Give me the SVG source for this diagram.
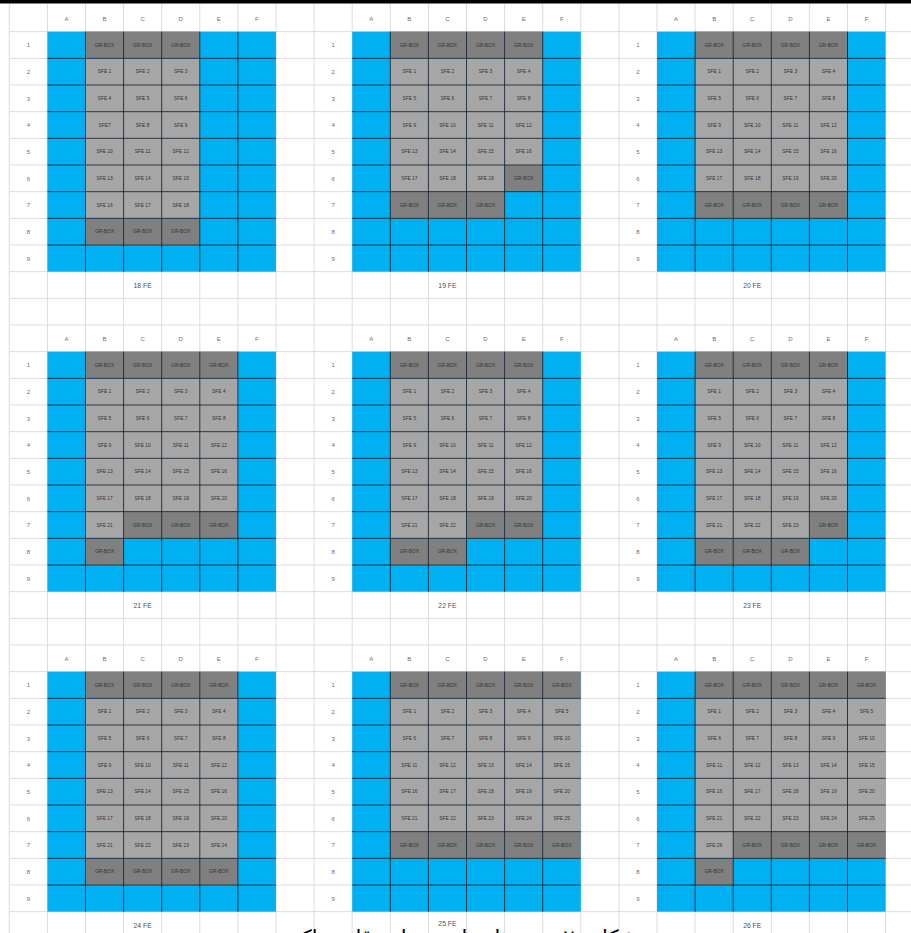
<svg xmlns="http://www.w3.org/2000/svg" xmlns:xlink="http://www.w3.org/1999/xlink" width="911" height="933" viewBox="0 0 911 933">
<defs>
<style>
.b{fill:#00b0f0}
.g{fill:#808080}
.s{fill:#a6a6a6}
.t{font-family:"Liberation Sans",Arial,sans-serif;font-size:4.9px;fill:#333333;text-anchor:middle}
.h{font-family:"Liberation Sans",Arial,sans-serif;font-size:6px;fill:#6e6e6e;text-anchor:middle}
.lab{font-family:"Liberation Sans",Arial,sans-serif;font-size:6.8px;fill:#505050;text-anchor:middle}
.grid{fill:none;stroke:#dcdcdc;stroke-width:1}
.cg{fill:none;stroke:#1c2a38;stroke-width:0.9}
.cap{font-family:"DejaVu Sans",sans-serif;font-size:21px;fill:#000000;text-anchor:middle}
</style>
<g id="hdr" class="h">
<text x="57.15" y="15.5">A</text><text x="95.25" y="15.5">B</text><text x="133.35" y="15.5">C</text><text x="171.45" y="15.5">D</text><text x="209.55" y="15.5">E</text><text x="247.65" y="15.5">F</text>
<text x="19.05" y="42.2">1</text><text x="19.05" y="68.87">2</text><text x="19.05" y="95.53">3</text><text x="19.05" y="122.2">4</text><text x="19.05" y="148.87">5</text><text x="19.05" y="175.53">6</text><text x="19.05" y="202.2">7</text><text x="19.05" y="228.87">8</text><text x="19.05" y="255.53">9</text>
</g>
<path id="blk" class="cg" d="M76.2 26.667V266.667M114.3 26.667V266.667M152.4 26.667V266.667M190.5 26.667V266.667M228.6 26.667V266.667M38.1 53.333H266.7M38.1 80H266.7M38.1 106.667H266.7M38.1 133.333H266.7M38.1 160H266.7M38.1 186.667H266.7M38.1 213.333H266.7M38.1 240H266.7"/>
<rect id="blue" class="b" x="38.1" y="26.667" width="228.6" height="240"/>
<g id="core4">
<rect class="g" x="76.2" y="26.667" width="152.4" height="26.667"/>
<rect class="s" x="76.2" y="53.333" width="152.4" height="133.333"/>
<g class="t">
<text x="95.25" y="41.7">GR-BOX</text><text x="133.35" y="41.7">GR-BOX</text><text x="171.45" y="41.7">GR-BOX</text><text x="209.55" y="41.7">GR-BOX</text>
<text x="95.25" y="68.37">SFE 1</text><text x="133.35" y="68.37">SFE 2</text><text x="171.45" y="68.37">SFE 3</text><text x="209.55" y="68.37">SFE 4</text>
<text x="95.25" y="95.03">SFE 5</text><text x="133.35" y="95.03">SFE 6</text><text x="171.45" y="95.03">SFE 7</text><text x="209.55" y="95.03">SFE 8</text>
<text x="95.25" y="121.7">SFE 9</text><text x="133.35" y="121.7">SFE 10</text><text x="171.45" y="121.7">SFE 11</text><text x="209.55" y="121.7">SFE 12</text>
<text x="95.25" y="148.37">SFE 13</text><text x="133.35" y="148.37">SFE 14</text><text x="171.45" y="148.37">SFE 15</text><text x="209.55" y="148.37">SFE 16</text>
<text x="95.25" y="175.03">SFE 17</text><text x="133.35" y="175.03">SFE 18</text><text x="171.45" y="175.03">SFE 19</text><text x="209.55" y="175.03">SFE 20</text>
</g>
</g>
<g id="core5">
<rect class="g" x="76.2" y="26.667" width="190.5" height="26.667"/>
<rect class="s" x="76.2" y="53.333" width="190.5" height="133.333"/>
<g class="t">
<text x="95.25" y="41.7">GR-BOX</text><text x="133.35" y="41.7">GR-BOX</text><text x="171.45" y="41.7">GR-BOX</text><text x="209.55" y="41.7">GR-BOX</text><text x="247.65" y="41.7">GR-BOX</text>
<text x="95.25" y="68.37">SFE 1</text><text x="133.35" y="68.37">SFE 2</text><text x="171.45" y="68.37">SFE 3</text><text x="209.55" y="68.37">SFE 4</text><text x="247.65" y="68.37">SFE 5</text>
<text x="95.25" y="95.03">SFE 6</text><text x="133.35" y="95.03">SFE 7</text><text x="171.45" y="95.03">SFE 8</text><text x="209.55" y="95.03">SFE 9</text><text x="247.65" y="95.03">SFE 10</text>
<text x="95.25" y="121.7">SFE 11</text><text x="133.35" y="121.7">SFE 12</text><text x="171.45" y="121.7">SFE 13</text><text x="209.55" y="121.7">SFE 14</text><text x="247.65" y="121.7">SFE 15</text>
<text x="95.25" y="148.37">SFE 16</text><text x="133.35" y="148.37">SFE 17</text><text x="171.45" y="148.37">SFE 18</text><text x="209.55" y="148.37">SFE 19</text><text x="247.65" y="148.37">SFE 20</text>
<text x="95.25" y="175.03">SFE 21</text><text x="133.35" y="175.03">SFE 22</text><text x="171.45" y="175.03">SFE 23</text><text x="209.55" y="175.03">SFE 24</text><text x="247.65" y="175.03">SFE 25</text>
</g>
</g>
</defs>
<rect x="0" y="0" width="911" height="933" fill="#ffffff"/>
<g id="sheet-grid">
<path class="grid" d="M9.3 3.5V933M47.4 3.5V933M85.5 3.5V933M123.6 3.5V933M161.7 3.5V933M199.8 3.5V933M237.9 3.5V933M276 3.5V933M314.1 3.5V933M352.2 3.5V933M390.3 3.5V933M428.4 3.5V933M466.5 3.5V933M504.6 3.5V933M542.7 3.5V933M580.8 3.5V933M618.9 3.5V933M657 3.5V933M695.1 3.5V933M733.2 3.5V933M771.3 3.5V933M809.4 3.5V933M847.5 3.5V933M885.6 3.5V933"/>
<path class="grid" d="M9.3 31.67H911M9.3 58.33H911M9.3 85H911M9.3 111.67H911M9.3 138.33H911M9.3 165H911M9.3 191.67H911M9.3 218.33H911M9.3 245H911M9.3 271.67H911M9.3 298.33H911M9.3 325H911M9.3 351.67H911M9.3 378.33H911M9.3 405H911M9.3 431.67H911M9.3 458.33H911M9.3 485H911M9.3 511.67H911M9.3 538.33H911M9.3 565H911M9.3 591.67H911M9.3 618.33H911M9.3 645H911M9.3 671.67H911M9.3 698.33H911M9.3 725H911M9.3 751.67H911M9.3 778.33H911M9.3 805H911M9.3 831.67H911M9.3 858.33H911M9.3 885H911M9.3 911.67H911"/>
</g>
<rect x="0" y="0" width="911" height="3.5" fill="#000000"/>

<g id="fe18" transform="translate(9.3,5)">
<use xlink:href="#hdr"/>
<use xlink:href="#blue"/>
<rect class="g" x="76.2" y="26.667" width="114.3" height="26.667"/>
<rect class="s" x="76.2" y="53.333" width="114.3" height="160"/>
<rect class="g" x="76.2" y="213.333" width="114.3" height="26.667"/>
<use xlink:href="#blk"/>
<g class="t">
<text x="95.25" y="41.7">GR-BOX</text><text x="133.35" y="41.7">GR-BOX</text><text x="171.45" y="41.7">GR-BOX</text>
<text x="95.25" y="68.37">SFE 1</text><text x="133.35" y="68.37">SFE 2</text><text x="171.45" y="68.37">SFE 3</text>
<text x="95.25" y="95.03">SFE 4</text><text x="133.35" y="95.03">SFE 5</text><text x="171.45" y="95.03">SFE 6</text>
<text x="95.25" y="121.7">SFE7</text><text x="133.35" y="121.7">SFE 8</text><text x="171.45" y="121.7">SFE 9</text>
<text x="95.25" y="148.37">SFE 10</text><text x="133.35" y="148.37">SFE 11</text><text x="171.45" y="148.37">SFE 12</text>
<text x="95.25" y="175.03">SFE 13</text><text x="133.35" y="175.03">SFE 14</text><text x="171.45" y="175.03">SFE 15</text>
<text x="95.25" y="201.7">SFE 16</text><text x="133.35" y="201.7">SFE 17</text><text x="171.45" y="201.7">SFE 18</text>
<text x="95.25" y="228.37">GR-BOX</text><text x="133.35" y="228.37">GR-BOX</text><text x="171.45" y="228.37">GR-BOX</text>
</g>
<text class="lab" x="133.35" y="282.5">18 FE</text>
</g>

<g id="fe19" transform="translate(314.1,5)">
<use xlink:href="#hdr"/>
<use xlink:href="#blue"/>
<rect class="g" x="76.2" y="26.667" width="152.4" height="26.667"/>
<rect class="s" x="76.2" y="53.333" width="152.4" height="106.667"/>
<rect class="s" x="76.2" y="160" width="114.3" height="26.667"/>
<rect class="g" x="190.5" y="160" width="38.1" height="26.667"/>
<rect class="g" x="76.2" y="186.667" width="114.3" height="26.667"/>
<use xlink:href="#blk"/>
<g class="t">
<text x="95.25" y="41.7">GR-BOX</text><text x="133.35" y="41.7">GR-BOX</text><text x="171.45" y="41.7">GR-BOX</text><text x="209.55" y="41.7">GR-BOX</text>
<text x="95.25" y="68.37">SFE 1</text><text x="133.35" y="68.37">SFE 2</text><text x="171.45" y="68.37">SFE 3</text><text x="209.55" y="68.37">SFE 4</text>
<text x="95.25" y="95.03">SFE 5</text><text x="133.35" y="95.03">SFE 6</text><text x="171.45" y="95.03">SFE 7</text><text x="209.55" y="95.03">SFE 8</text>
<text x="95.25" y="121.7">SFE 9</text><text x="133.35" y="121.7">SFE 10</text><text x="171.45" y="121.7">SFE 11</text><text x="209.55" y="121.7">SFE 12</text>
<text x="95.25" y="148.37">SFE 13</text><text x="133.35" y="148.37">SFE 14</text><text x="171.45" y="148.37">SFE 15</text><text x="209.55" y="148.37">SFE 16</text>
<text x="95.25" y="175.03">SFE 17</text><text x="133.35" y="175.03">SFE 18</text><text x="171.45" y="175.03">SFE 19</text><text x="209.55" y="175.03">GR-BOX</text>
<text x="95.25" y="201.7">GR-BOX</text><text x="133.35" y="201.7">GR-BOX</text><text x="171.45" y="201.7">GR-BOX</text>
</g>
<text class="lab" x="133.35" y="282.5">19 FE</text>
</g>

<g id="fe20" transform="translate(618.9,5)">
<use xlink:href="#hdr"/>
<use xlink:href="#blue"/>
<use xlink:href="#core4"/>
<rect class="g" x="76.2" y="186.667" width="152.4" height="26.667"/>
<use xlink:href="#blk"/>
<g class="t">
<text x="95.25" y="201.7">GR-BOX</text><text x="133.35" y="201.7">GR-BOX</text><text x="171.45" y="201.7">GR-BOX</text><text x="209.55" y="201.7">GR-BOX</text>
</g>
<text class="lab" x="133.35" y="282.5">20 FE</text>
</g>

<g id="fe21" transform="translate(9.3,325)">
<use xlink:href="#hdr"/>
<use xlink:href="#blue"/>
<use xlink:href="#core4"/>
<rect class="s" x="76.2" y="186.667" width="38.1" height="26.667"/>
<rect class="g" x="114.3" y="186.667" width="114.3" height="26.667"/>
<rect class="g" x="76.2" y="213.333" width="38.1" height="26.667"/>
<use xlink:href="#blk"/>
<g class="t">
<text x="95.25" y="201.7">SFE 21</text><text x="133.35" y="201.7">GR-BOX</text><text x="171.45" y="201.7">GR-BOX</text><text x="209.55" y="201.7">GR-BOX</text>
<text x="95.25" y="228.37">GR-BOX</text>
</g>
<text class="lab" x="133.35" y="282.5">21 FE</text>
</g>

<g id="fe22" transform="translate(314.1,325)">
<use xlink:href="#hdr"/>
<use xlink:href="#blue"/>
<use xlink:href="#core4"/>
<rect class="s" x="76.2" y="186.667" width="76.2" height="26.667"/>
<rect class="g" x="152.4" y="186.667" width="76.2" height="26.667"/>
<rect class="g" x="76.2" y="213.333" width="76.2" height="26.667"/>
<use xlink:href="#blk"/>
<g class="t">
<text x="95.25" y="201.7">SFE 21</text><text x="133.35" y="201.7">SFE 22</text><text x="171.45" y="201.7">GR-BOX</text><text x="209.55" y="201.7">GR-BOX</text>
<text x="95.25" y="228.37">GR-BOX</text><text x="133.35" y="228.37">GR-BOX</text>
</g>
<text class="lab" x="133.35" y="282.5">22 FE</text>
</g>

<g id="fe23" transform="translate(618.9,325)">
<use xlink:href="#hdr"/>
<use xlink:href="#blue"/>
<use xlink:href="#core4"/>
<rect class="s" x="76.2" y="186.667" width="114.3" height="26.667"/>
<rect class="g" x="190.5" y="186.667" width="38.1" height="26.667"/>
<rect class="g" x="76.2" y="213.333" width="114.3" height="26.667"/>
<use xlink:href="#blk"/>
<g class="t">
<text x="95.25" y="201.7">SFE 21</text><text x="133.35" y="201.7">SFE 22</text><text x="171.45" y="201.7">SFE 23</text><text x="209.55" y="201.7">GR-BOX</text>
<text x="95.25" y="228.37">GR-BOX</text><text x="133.35" y="228.37">GR-BOX</text><text x="171.45" y="228.37">GR-BOX</text>
</g>
<text class="lab" x="133.35" y="282.5">23 FE</text>
</g>

<g id="fe24" transform="translate(9.3,645)">
<use xlink:href="#hdr"/>
<use xlink:href="#blue"/>
<use xlink:href="#core4"/>
<rect class="s" x="76.2" y="186.667" width="152.4" height="26.667"/>
<rect class="g" x="76.2" y="213.333" width="152.4" height="26.667"/>
<use xlink:href="#blk"/>
<g class="t">
<text x="95.25" y="201.7">SFE 21</text><text x="133.35" y="201.7">SFE 22</text><text x="171.45" y="201.7">SFE 23</text><text x="209.55" y="201.7">SFE 24</text>
<text x="95.25" y="228.37">GR-BOX</text><text x="133.35" y="228.37">GR-BOX</text><text x="171.45" y="228.37">GR-BOX</text><text x="209.55" y="228.37">GR-BOX</text>
</g>
<text class="lab" x="133.35" y="282.5">24 FE</text>
</g>

<g id="fe25" transform="translate(314.1,645)">
<use xlink:href="#hdr"/>
<use xlink:href="#blue"/>
<use xlink:href="#core5"/>
<rect class="g" x="76.2" y="186.667" width="190.5" height="26.667"/>
<use xlink:href="#blk"/>
<g class="t">
<text x="95.25" y="201.7">GR-BOX</text><text x="133.35" y="201.7">GR-BOX</text><text x="171.45" y="201.7">GR-BOX</text><text x="209.55" y="201.7">GR-BOX</text><text x="247.65" y="201.7">GR-BOX</text>
</g>
<text class="lab" x="133.35" y="280.5">25 FE</text>
</g>

<g id="fe26" transform="translate(618.9,645)">
<use xlink:href="#hdr"/>
<use xlink:href="#blue"/>
<use xlink:href="#core5"/>
<rect class="s" x="76.2" y="186.667" width="38.1" height="26.667"/>
<rect class="g" x="114.3" y="186.667" width="152.4" height="26.667"/>
<rect class="g" x="76.2" y="213.333" width="38.1" height="26.667"/>
<use xlink:href="#blk"/>
<g class="t">
<text x="95.25" y="201.7">SFE 26</text><text x="133.35" y="201.7">GR-BOX</text><text x="171.45" y="201.7">GR-BOX</text><text x="209.55" y="201.7">GR-BOX</text><text x="247.65" y="201.7">GR-BOX</text>
<text x="95.25" y="228.37">GR-BOX</text>
</g>
<text class="lab" x="133.35" y="282.5">26 FE</text>
</g>

<text class="cap" x="456" y="945" direction="rtl">شکل ۲۰ - چیدمان‌های مختلف قلب راکتور</text>
</svg>
